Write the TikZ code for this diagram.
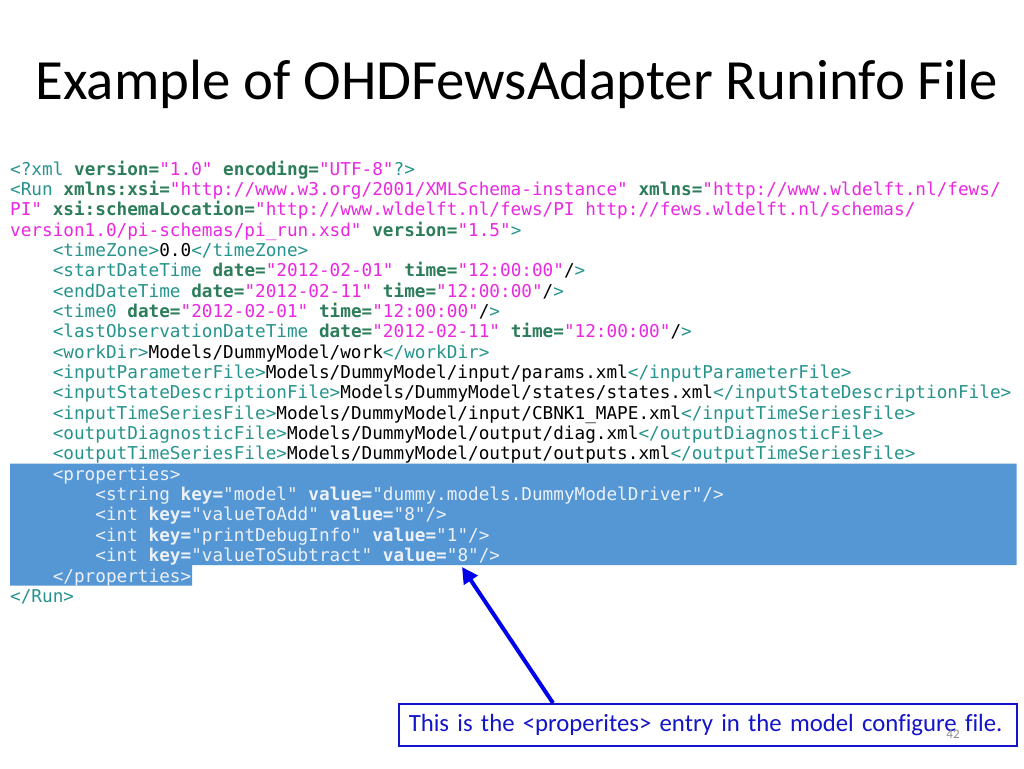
\documentclass[tikz,border=0pt]{standalone}
\usepackage{fontspec}
\usetikzlibrary{arrows.meta}
\setmainfont{Carlito}
\newfontfamily\notefont{Carlito}[Ligatures=NoCommon]
\newfontfamily\codefont{DejaVu Sans Mono}
\definecolor{tagc}{RGB}{38,148,140}
\definecolor{attrc}{RGB}{45,125,90}
\definecolor{valc}{RGB}{235,40,225}
\definecolor{hlc}{RGB}{85,150,213}
\definecolor{hltext}{RGB}{236,241,248}
\definecolor{notec}{RGB}{20,20,200}
\definecolor{arrowc}{RGB}{0,0,235}
\definecolor{pagec}{RGB}{140,140,140}
\newcommand\xtag[1]{\textcolor{tagc}{#1}}
\newcommand\xattr[1]{\textcolor{attrc}{\bfseries #1}}
\newcommand\xval[1]{\textcolor{valc}{#1}}
\tikzset{
  codeline/.style={anchor=base west, inner sep=0pt, font=\codefont\fontsize{17.69pt}{20pt}\selectfont, text=black},
  hlline/.style={codeline, text=hltext},
  titletext/.style={anchor=base, inner sep=0pt, font=\fontsize{56.8pt}{60pt}\selectfont, text=black},
  notebox/.style={draw=notec, line width=1.5pt, anchor=north west, minimum width=618pt, minimum height=42pt, inner xsep=10pt, inner ysep=0pt, text width=598pt, align=left, text=notec, font=\notefont\fontsize{24.75pt}{28pt}\selectfont},
  pointer/.style={draw=arrowc, line width=4pt, -{Triangle[length=16pt,width=16pt]}},
}
\begin{document}
\begin{tikzpicture}[x=1pt,y=-1pt]
\useasboundingbox (0,0) rectangle (1024,768);
\fill[white] (0,0) rectangle (1024,768);
% title
\node[titletext] (title) at (517,99) {Example of OHDFewsAdapter Runinfo File};
% highlight
\fill[hlc] (10,463.5) -- (1016.7,463.5) -- (1016.7,565) -- (192,565) -- (192,585.5) -- (10,585.5) -- cycle;
% code
\def\ls{20.35}
\node[codeline] (l0) at (10,175) {\xtag{<?xml} \xattr{version=}\xval{"1.0"} \xattr{encoding=}\xval{"UTF-8"}\xtag{?>}};
\node[codeline] (l1) at (10,175+1*\ls) {\xtag{<Run} \xattr{xmlns:xsi=}\xval{"http://www.w3.org/2001/XMLSchema-instance"} \xattr{xmlns=}\xval{"http://www.wldelft.nl/fews/}};
\node[codeline] (l2) at (10,175+2*\ls) {\xval{PI"} \xattr{xsi:schemaLocation=}\xval{"http://www.wldelft.nl/fews/PI http://fews.wldelft.nl/schemas/}};
\node[codeline] (l3) at (10,175+3*\ls) {\xval{version1.0/pi-schemas/pi\_run.xsd"} \xattr{version=}\xval{"1.5"}\xtag{>}};
\node[codeline] (l4) at (52.6,175+4*\ls) {\xtag{<timeZone>}0.0\xtag{</timeZone>}};
\node[codeline] (l5) at (52.6,175+5*\ls) {\xtag{<startDateTime} \xattr{date=}\xval{"2012-02-01"} \xattr{time=}\xval{"12:00:00"}/\xtag{>}};
\node[codeline] (l6) at (52.6,175+6*\ls) {\xtag{<endDateTime} \xattr{date=}\xval{"2012-02-11"} \xattr{time=}\xval{"12:00:00"}/\xtag{>}};
\node[codeline] (l7) at (52.6,175+7*\ls) {\xtag{<time0} \xattr{date=}\xval{"2012-02-01"} \xattr{time=}\xval{"12:00:00"}/\xtag{>}};
\node[codeline] (l8) at (52.6,175+8*\ls) {\xtag{<lastObservationDateTime} \xattr{date=}\xval{"2012-02-11"} \xattr{time=}\xval{"12:00:00"}/\xtag{>}};
\node[codeline] (l9) at (52.6,175+9*\ls) {\xtag{<workDir>}Models/DummyModel/work\xtag{</workDir>}};
\node[codeline] (l10) at (52.6,175+10*\ls) {\xtag{<inputParameterFile>}Models/DummyModel/input/params.xml\xtag{</inputParameterFile>}};
\node[codeline] (l11) at (52.6,175+11*\ls) {\xtag{<inputStateDescriptionFile>}Models/DummyModel/states/states.xml\xtag{</inputStateDescriptionFile>}};
\node[codeline] (l12) at (52.6,175+12*\ls) {\xtag{<inputTimeSeriesFile>}Models/DummyModel/input/CBNK1\_MAPE.xml\xtag{</inputTimeSeriesFile>}};
\node[codeline] (l13) at (52.6,175+13*\ls) {\xtag{<outputDiagnosticFile>}Models/DummyModel/output/diag.xml\xtag{</outputDiagnosticFile>}};
\node[codeline] (l14) at (52.6,175+14*\ls) {\xtag{<outputTimeSeriesFile>}Models/DummyModel/output/outputs.xml\xtag{</outputTimeSeriesFile>}};
\node[hlline] (l15) at (52.6,175+15*\ls) {<properties>};
\node[hlline] (l16) at (95.2,175+16*\ls) {<string \textbf{key=}"model" \textbf{value=}"dummy.models.DummyModelDriver"/>};
\node[hlline] (l17) at (95.2,175+17*\ls) {<int \textbf{key=}"valueToAdd" \textbf{value=}"8"/>};
\node[hlline] (l18) at (95.2,175+18*\ls) {<int \textbf{key=}"printDebugInfo" \textbf{value=}"1"/>};
\node[hlline] (l19) at (95.2,175+19*\ls) {<int \textbf{key=}"valueToSubtract" \textbf{value=}"8"/>};
\node[hlline] (l20) at (52.6,175+20*\ls) {</properties>};
\node[codeline] (l21) at (10,175+21*\ls) {\xtag{</Run>}};
% callout
\node[notebox] (note) at (398,703) {This is the <properites> entry in the model configure file.};
\coordinate (tip) at (462,567);
\coordinate (start) at (553,703);
\draw[pointer] (start) -- (tip);
% page number
\node[inner sep=0pt, text=pagec, font=\fontsize{13pt}{15pt}\selectfont] (page) at (953,734) {42};
\end{tikzpicture}
\end{document}
